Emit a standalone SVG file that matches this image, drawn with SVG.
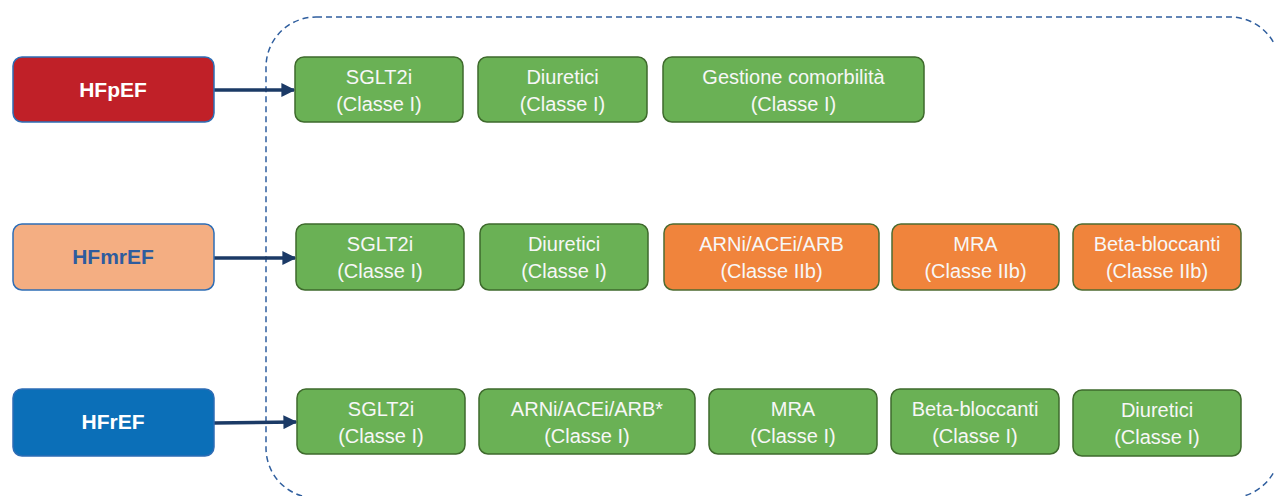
<svg xmlns="http://www.w3.org/2000/svg" width="1274" height="496" viewBox="0 0 1274 496">
<style>
.bg{fill:#ffffff}
.frame{fill:none;stroke:#2F5E9E;stroke-width:1.5;stroke-dasharray:6 4}
.hf{stroke:#2E6DB5;stroke-width:1.5}
.g{fill:#6AB155;stroke:#3E6A2C;stroke-width:1.5}
.o{fill:#F0843C;stroke:#4E6B30;stroke-width:1.5}
.t{font-family:"Liberation Sans",Arial,sans-serif;font-size:20px;fill:#F7F7F7;text-anchor:middle}
.ht{font-family:"Liberation Sans",Arial,sans-serif;font-size:21px;font-weight:bold;text-anchor:middle}
.conn{stroke:#1B3A66;stroke-width:3.5;fill:none}
</style>
<defs>
<marker id="ah" viewBox="0 0 10 10" refX="9" refY="5" markerWidth="4" markerHeight="4" orient="auto" markerUnits="strokeWidth">
<path d="M0,0 L10,5 L0,10 z" fill="#1B3A66"/>
</marker>
</defs>
<rect class="bg" x="0" y="0" width="1274" height="496"/>
<rect class="frame" x="266" y="17" width="1014" height="481" rx="50" ry="50"/>

<g id="connectors">
<line class="conn" x1="214" y1="90" x2="294" y2="90" marker-end="url(#ah)"/>
<line class="conn" x1="214" y1="258" x2="295" y2="258" marker-end="url(#ah)"/>
<line class="conn" x1="214" y1="423" x2="296" y2="422" marker-end="url(#ah)"/>
</g>

<g id="hfpef"><rect class="hf" x="13" y="57" width="201" height="65" rx="9" fill="#C02028"/><text class="ht" x="113" y="97" fill="#FFFFFF">HFpEF</text></g>
<g id="hfmref"><rect class="hf" x="13" y="224" width="201" height="66" rx="9" fill="#F4AE82"/><text class="ht" x="113" y="264" fill="#2E5C9E">HFmrEF</text></g>
<g id="hfref"><rect class="hf" x="13" y="389" width="201" height="67" rx="9" fill="#0B6FB8"/><text class="ht" x="113" y="429" fill="#FFFFFF">HFrEF</text></g>

<g id="r1-sglt2i"><rect class="g" x="295" y="57" width="168" height="65" rx="9"/><text class="t" x="379" y="84">SGLT2i</text><text class="t" x="379" y="111">(Classe I)</text></g>
<g id="r1-diuretici"><rect class="g" x="478" y="57" width="169" height="65" rx="9"/><text class="t" x="562.5" y="84">Diuretici</text><text class="t" x="562.5" y="111">(Classe I)</text></g>
<g id="r1-comorb"><rect class="g" x="663" y="57" width="261" height="65" rx="9"/><text class="t" x="793.5" y="84">Gestione comorbilità</text><text class="t" x="793.5" y="111">(Classe I)</text></g>

<g id="r2-sglt2i"><rect class="g" x="296" y="224" width="168" height="66" rx="9"/><text class="t" x="380" y="251">SGLT2i</text><text class="t" x="380" y="278">(Classe I)</text></g>
<g id="r2-diuretici"><rect class="g" x="480" y="224" width="168" height="66" rx="9"/><text class="t" x="564" y="251">Diuretici</text><text class="t" x="564" y="278">(Classe I)</text></g>
<g id="r2-arni"><rect class="o" x="664" y="224" width="215" height="66" rx="9"/><text class="t" x="771.5" y="251">ARNi/ACEi/ARB</text><text class="t" x="771.5" y="278">(Classe IIb)</text></g>
<g id="r2-mra"><rect class="o" x="892" y="224" width="167" height="66" rx="9"/><text class="t" x="975.5" y="251">MRA</text><text class="t" x="975.5" y="278">(Classe IIb)</text></g>
<g id="r2-beta"><rect class="o" x="1073" y="224" width="168" height="66" rx="9"/><text class="t" x="1157" y="251">Beta-bloccanti</text><text class="t" x="1157" y="278">(Classe IIb)</text></g>

<g id="r3-sglt2i"><rect class="g" x="297" y="389" width="168" height="65" rx="9"/><text class="t" x="381" y="416">SGLT2i</text><text class="t" x="381" y="443">(Classe I)</text></g>
<g id="r3-arni"><rect class="g" x="479" y="389" width="216" height="65" rx="9"/><text class="t" x="587" y="416">ARNi/ACEi/ARB*</text><text class="t" x="587" y="443">(Classe I)</text></g>
<g id="r3-mra"><rect class="g" x="709" y="389" width="168" height="65" rx="9"/><text class="t" x="793" y="416">MRA</text><text class="t" x="793" y="443">(Classe I)</text></g>
<g id="r3-beta"><rect class="g" x="891" y="389" width="168" height="65" rx="9"/><text class="t" x="975" y="416">Beta-bloccanti</text><text class="t" x="975" y="443">(Classe I)</text></g>
<g id="r3-diuretici"><rect class="g" x="1073" y="390" width="168" height="66" rx="9"/><text class="t" x="1157" y="417">Diuretici</text><text class="t" x="1157" y="444">(Classe I)</text></g>
</svg>
